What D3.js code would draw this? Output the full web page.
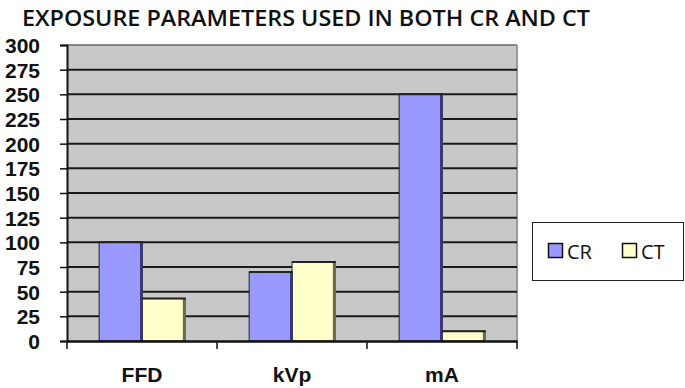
<!DOCTYPE html>
<html><head><meta charset="utf-8">
<script src="https://cdn.jsdelivr.net/npm/d3@7"></script>
<style>html,body{margin:0;padding:0;background:#fff;}svg{display:block;}</style>
</head><body>
<svg id="c" width="685" height="388"></svg>
<script>
const title = "EXPOSURE PARAMETERS USED IN BOTH CR AND CT";
const categories = ["FFD", "kVp", "mA"];
const seriesNames = ["CR", "CT"];
const crValues = [100, 70, 250];
const ctValues = [43, 80, 10];
const yTicks = [0, 25, 50, 75, 100, 125, 150, 175, 200, 225, 250, 275, 300];

const fills = {CR: "#9999ff", CT: "#ffffcc"};
const shades = {CR: "#3a3a70", CT: "#6a6a48"};

const svg = d3.select("#c");
const m = {l: 67, r: 517, t: 45, b: 341};

const x = d3.scaleBand().domain(categories).range([m.l, m.r]).paddingInner(0).paddingOuter(0);
const inner = d3.scaleBand().domain(seriesNames).range([0, x.bandwidth()]).paddingInner(0).paddingOuter(0.75);
const y = d3.scaleLinear().domain([0, 300]).range([m.b, m.t]);

// title
svg.append("text").attr("x", 22).attr("y", 26)
  .attr("font-family", "Open Sans").attr("font-weight", 600).attr("font-size", 21)
  .attr("textLength", 568).attr("lengthAdjust", "spacingAndGlyphs")
  .attr("fill", "#111").text(title);

// plot background
svg.append("rect").attr("x", m.l).attr("y", m.t).attr("width", m.r - m.l).attr("height", m.b - m.t)
  .attr("fill", "#c8c8c8");
svg.append("line").attr("x1", m.l).attr("x2", m.r).attr("y1", m.t).attr("y2", m.t).attr("stroke", "#666").attr("stroke-width", 1.5);
svg.append("line").attr("x1", m.r).attr("x2", m.r).attr("y1", m.t).attr("y2", m.b).attr("stroke", "#999").attr("stroke-width", 2);

// gridlines
svg.append("g").selectAll("line").data(yTicks.filter(d => d > 0 && d < 300)).join("line")
  .attr("x1", m.l).attr("x2", m.r).attr("y1", d => y(d)).attr("y2", d => y(d))
  .attr("stroke", "#1a1a1a").attr("stroke-width", 2);

// bars
const data = categories.map((c, i) => ({cat: c, vals: [{s: "CR", v: crValues[i]}, {s: "CT", v: ctValues[i]}]}));
const groups = svg.append("g").selectAll("g").data(data).join("g")
  .attr("transform", d => `translate(${x(d.cat)},0)`);
groups.selectAll("rect.bar").data(d => d.vals).join("rect").attr("class", "bar")
  .attr("x", d => inner(d.s)).attr("y", d => y(d.v))
  .attr("width", inner.bandwidth()).attr("height", d => y(0) - y(d.v))
  .attr("fill", d => fills[d.s]).attr("stroke", "#222").attr("stroke-width", 1);
groups.selectAll("rect.shade").data(d => d.vals).join("rect").attr("class", "shade")
  .attr("x", d => inner(d.s) + inner.bandwidth() - 2).attr("y", d => y(d.v))
  .attr("width", 3).attr("height", d => y(0) - y(d.v))
  .attr("fill", d => shades[d.s]);
groups.selectAll("line.top").data(d => d.vals).join("line").attr("class", "top")
  .attr("x1", d => inner(d.s)).attr("x2", d => inner(d.s) + inner.bandwidth() + 1)
  .attr("y1", d => y(d.v)).attr("y2", d => y(d.v))
  .attr("stroke", "#222").attr("stroke-width", 2);

// y axis
const yAxis = d3.axisLeft(y).tickValues(yTicks).tickSize(7).tickPadding(20);
const gy = svg.append("g").attr("transform", `translate(${m.l},0)`).call(yAxis);
gy.select(".domain").attr("stroke", "#111").attr("stroke-width", 2);
gy.selectAll(".tick line").attr("stroke", "#111").attr("stroke-width", 1.5);
gy.selectAll(".tick text").attr("font-family", "Liberation Sans").attr("font-weight", 700)
  .attr("font-size", 21).attr("fill", "#111").attr("dy", "0.36em");

// x axis
const xAxis = d3.axisBottom(x).tickSize(0).tickPadding(26);
const gx = svg.append("g").attr("transform", `translate(0,${m.b})`).call(xAxis);
gx.select(".domain").attr("stroke", "#111").attr("stroke-width", 2.5);
gx.selectAll(".tick text").attr("font-family", "Liberation Sans").attr("font-weight", 700)
  .attr("font-size", 21).attr("fill", "#111");
const bounds = categories.map(c => x(c)).concat([m.r]);
gx.append("g").selectAll("line").data(bounds).join("line")
  .attr("x1", d => d).attr("x2", d => d).attr("y1", 0).attr("y2", 8)
  .attr("stroke", "#111").attr("stroke-width", 1.5);

// legend
const lg = svg.append("g");
lg.append("rect").attr("x", 532.5).attr("y", 222.5).attr("width", 151).attr("height", 58)
  .attr("fill", "#fff").attr("stroke", "#222").attr("stroke-width", 1);
const legX = [548, 622];
seriesNames.forEach((s, i) => {
  lg.append("rect").attr("x", legX[i] + 0.5).attr("y", 243.5).attr("width", 14).attr("height", 14)
    .attr("fill", fills[s]).attr("stroke", "#111").attr("stroke-width", 1.5);
  lg.append("text").attr("x", legX[i] + 19).attr("y", 258.5)
    .attr("font-family", "Open Sans").attr("font-size", 20).attr("fill", "#111").text(s);
});
</script>
</body></html>
